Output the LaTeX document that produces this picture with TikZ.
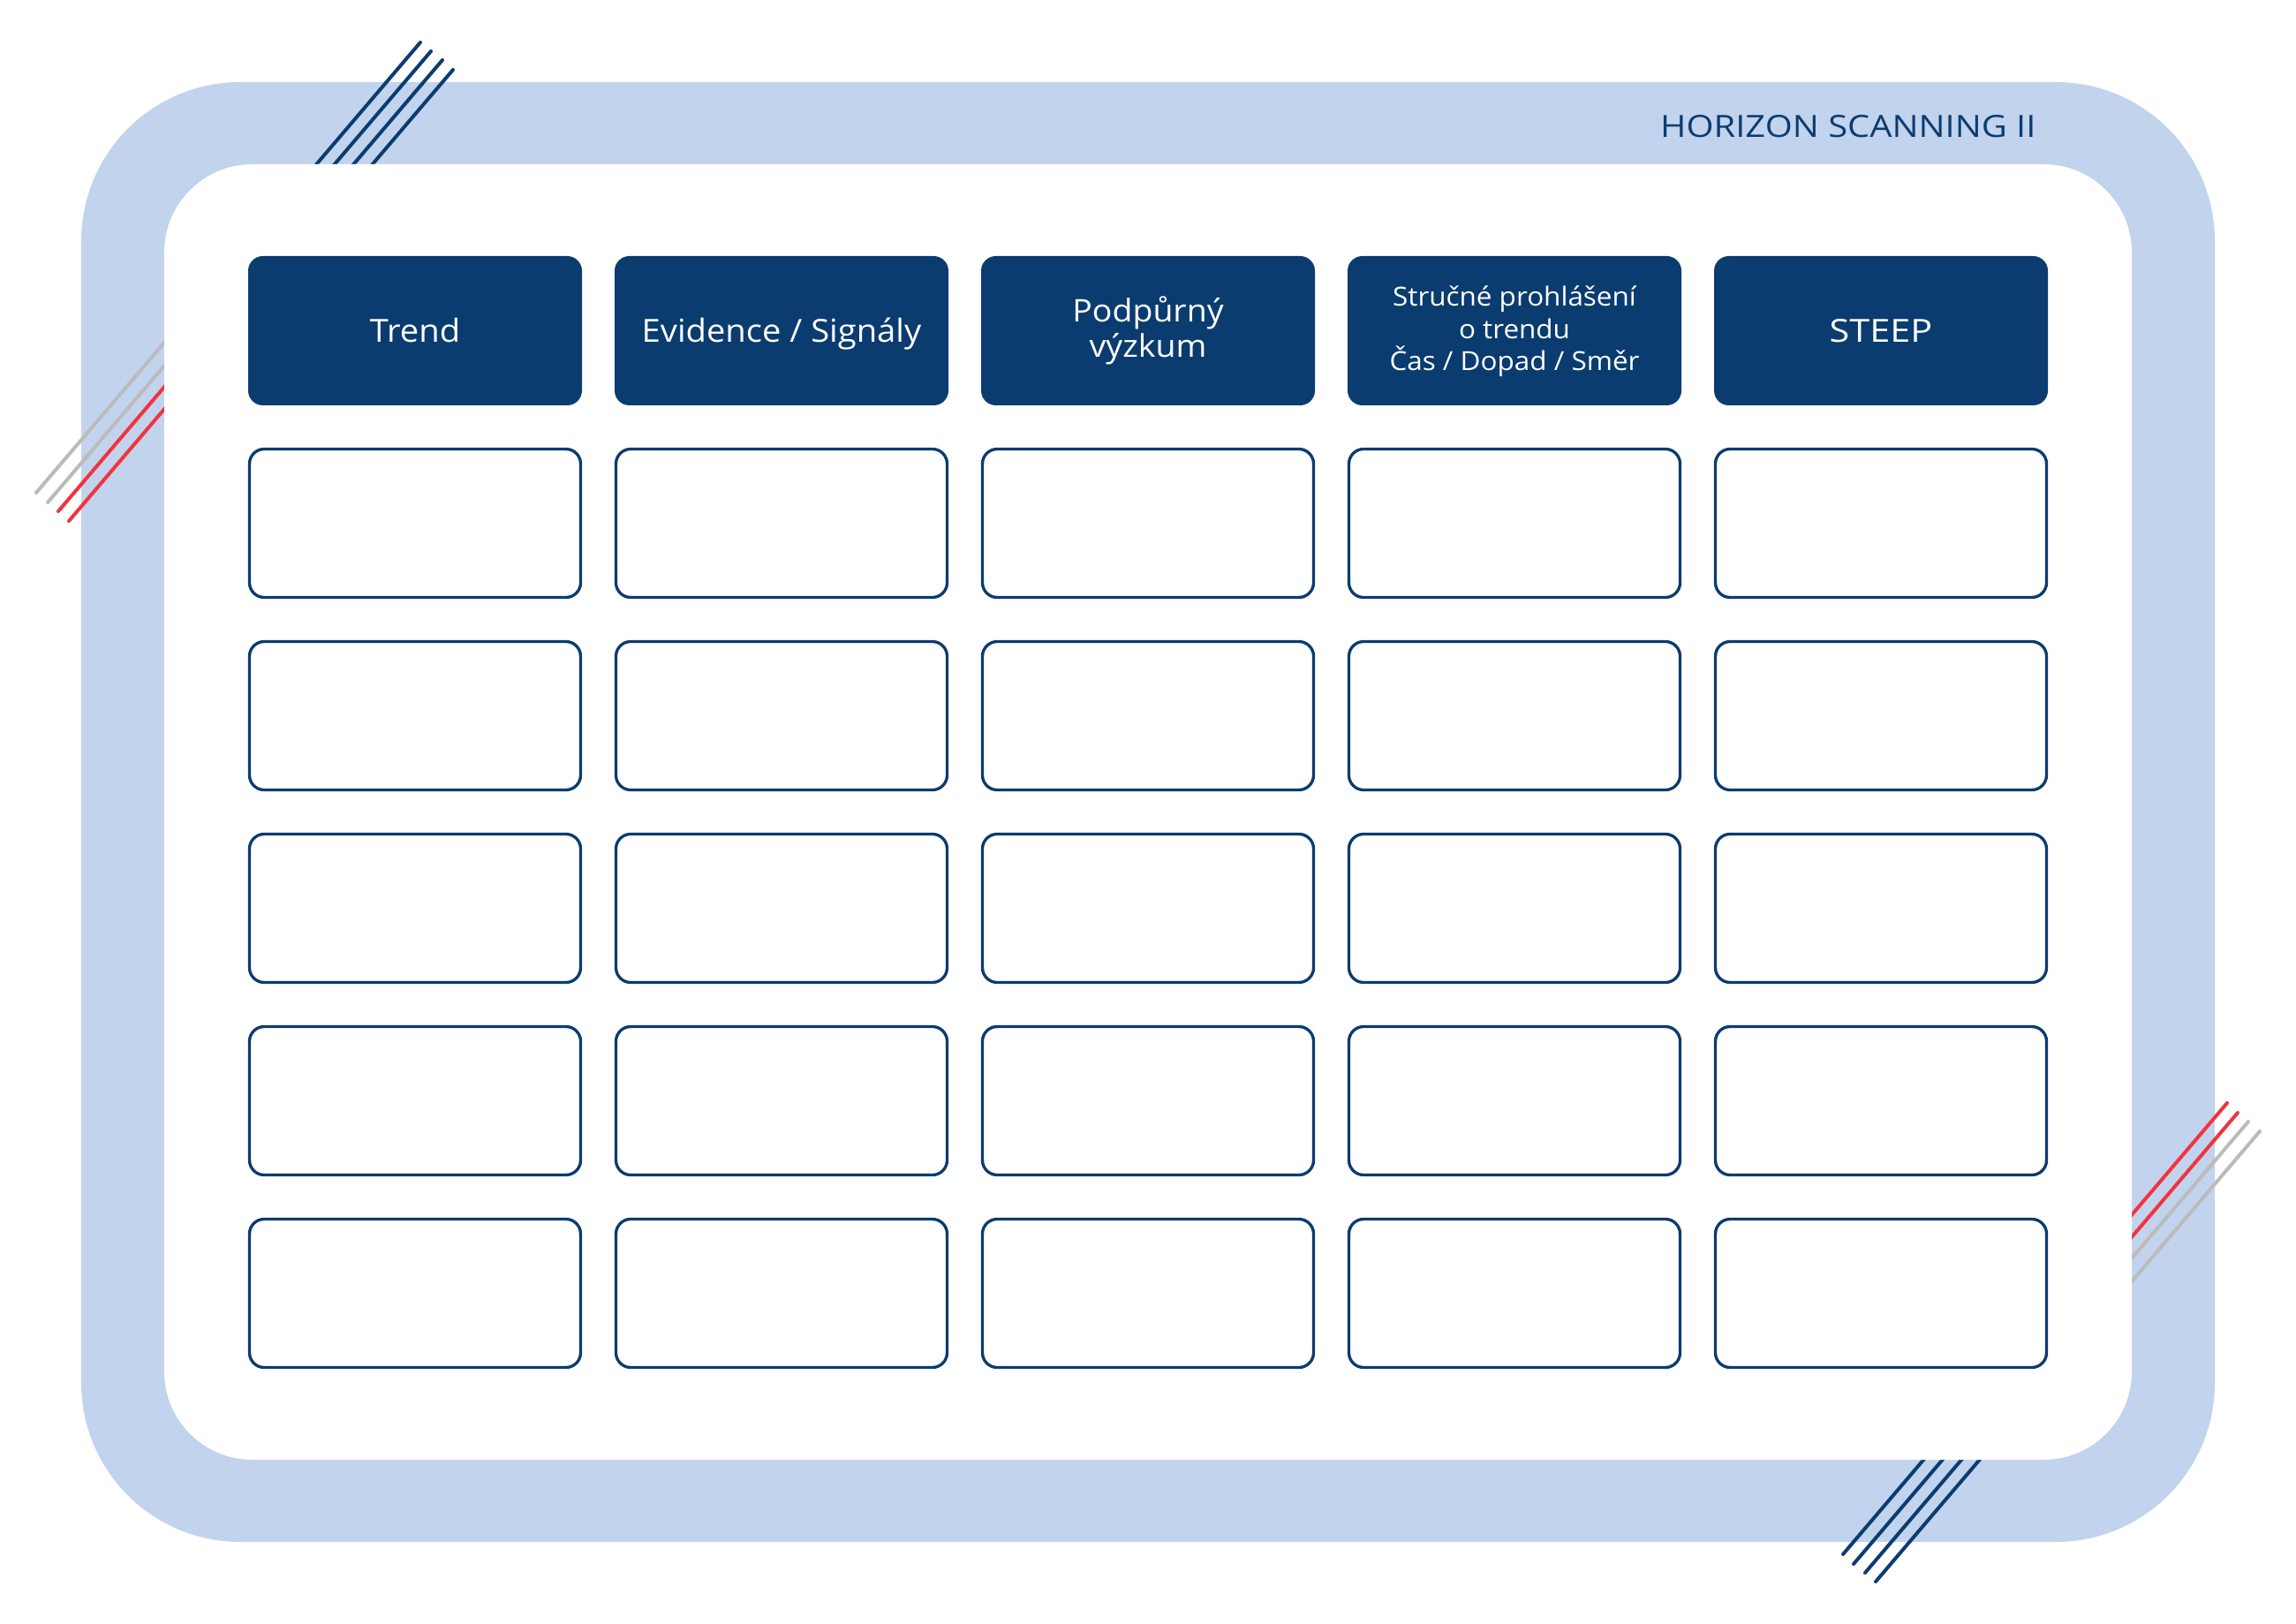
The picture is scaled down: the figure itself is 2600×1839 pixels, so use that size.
\documentclass[tikz,border=0pt]{standalone}
\usepackage{fontspec}
\setmainfont{Open Sans}
\newfontfamily\widefont[FakeStretch=1.06]{Open Sans}
\newfontfamily\capsfont[FakeStretch=1.15]{Open Sans}
\definecolor{navy}{RGB}{11,60,112}
\definecolor{bandblue}{RGB}{194,211,238}
\definecolor{redline}{RGB}{240,52,62}
\definecolor{grayline}{RGB}{187,187,187}
\tikzset{
  hdbox/.style={fill=navy, draw=none, rounded corners=5pt, inner sep=0pt,
    minimum width=113.4pt, minimum height=50.7pt},
  cellbox/.style={draw=navy, fill=white, line width=1pt, rounded corners=5pt, inner sep=0pt,
    minimum width=112.5pt, minimum height=50.4pt},
  hdtext/.style={text=white, inner sep=0pt, align=center, font=\widefont\fontsize{10.8pt}{13pt}\selectfont},
  deco/.style={line width=1.2pt, line cap=round},
}
\begin{document}
\begin{tikzpicture}[x=0.3pt,y=-0.3pt]
\useasboundingbox (0,0) rectangle (2600,1839);
% outer band
\fill[bandblue, rounded corners=54pt] (92,93) rectangle (2508,1746);
% decorative lines
\foreach \px/\py/\c in {2087/1760/navy,2099/1771/navy,2112/1781/navy,2124/1791/navy}
  \draw[deco,\c] (\px,\py) -- ++(162,-190);
\foreach \px/\py/\c in {513/79/navy,501/68/navy,488/58/navy,476/48/navy}
  \draw[deco,\c] (\px,\py) -- ++(-162,190);
\foreach \px/\py/\c in {2522/1249/redline,2534/1260/redline,2546/1270/grayline,2559/1281/grayline}
  \draw[deco,\c] (\px,\py) -- ++(-162,190);
\foreach \px/\py/\c in {78/590/redline,66/579/redline,54/569/grayline,41/558/grayline}
  \draw[deco,\c] (\px,\py) -- ++(162,-190);
% inner white panel
\fill[white, rounded corners=30pt] (186,186) rectangle (2414,1653);
% title
\node[anchor=base east, inner sep=0pt, text=navy, font=\capsfont\fontsize{10.4pt}{12pt}\selectfont] (title) at (2306,156) {HORIZON SCANNING II};
% header boxes
\foreach \i in {0,...,4} {
  \node[hdbox] (h\i) at ({470+415*\i},374.5) {};
}
\node[hdtext, anchor=base] (t0) at (470,388) {Trend};
\node[hdtext, anchor=base] (t1) at (885,388) {Evidence / Signály};
\node[hdtext, anchor=base, font=\widefont\fontsize{10.6pt}{12pt}\selectfont] (t2) at (1300,405) {Podpůrný\\výzkum};
\node[hdtext, anchor=base, font=\widefont\fontsize{8.9pt}{11pt}\selectfont] (t3) at (1715,420) {Stručné prohlášení\\o trendu\\Čas / Dopad / Směr};
\node[hdtext, anchor=base, font=\capsfont\fontsize{10.8pt}{13pt}\selectfont] (t4) at (2130,388) {STEEP};
% empty cells
\foreach \i in {0,...,4} {
  \foreach \j in {0,...,4} {
    \node[cellbox] (c\i\j) at ({470+415*\i},{592.5+218*\j}) {};
  }
}
\end{tikzpicture}
\end{document}
